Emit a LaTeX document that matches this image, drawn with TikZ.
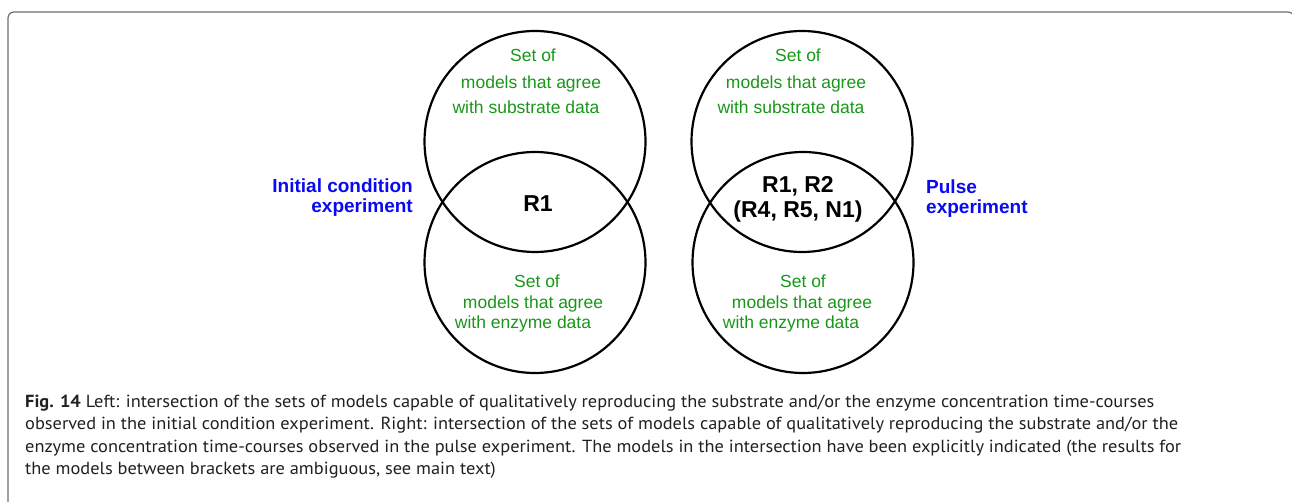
\documentclass[tikz,border=0pt]{standalone}
\usepackage{fontspec}
\setmainfont{Liberation Sans}
\newfontfamily\capfont[FakeStretch=1.05]{PT Sans}
\definecolor{setgreen}{RGB}{25,150,25}
\definecolor{labelblue}{RGB}{10,10,240}
\definecolor{framegray}{RGB}{110,110,110}
\definecolor{captext}{RGB}{35,31,32}
\begin{document}
\begin{tikzpicture}[x=1pt,y=-1pt,
  venn/.style={circle, draw=black, line width=2.2pt, minimum size=221pt, inner sep=0pt},
  settext/.style={anchor=base, inner sep=0pt, text=setgreen, font=\fontsize{17.5}{20}\selectfont},
  hits/.style={anchor=base, inner sep=0pt, text=black, font=\fontsize{23}{27}\selectfont\bfseries},
  explabel/.style={inner sep=0pt, text=labelblue, font=\fontsize{19}{20}\selectfont\bfseries},
  capline/.style={anchor=base west, inner sep=0pt, text=captext, font=\capfont\fontsize{17.5}{22}\selectfont}]
  \useasboundingbox (0,0) rectangle (1292,502);
  \clip (0,0) rectangle (1292,502);
  % frame of the figure box
  \draw[framegray, line width=1.2pt, rounded corners=6pt] (8,540) -- (8,12) -- (1294,12) -- (1294,540);

  % left pair of sets
  \node[venn] (subL) at (535,141.5) {};
  \node[venn] (enzL) at (535,262.5) {};
  % right pair of sets
  \node[venn] (subR) at (802,141.5) {};
  \node[venn] (enzR) at (803,262.5) {};

  % set descriptions, left
  \node[settext] (subLa) at (533,62) {Set of};
  \node[settext] (subLb) at (531,89) {models that agree};
  \node[settext] (subLc) at (526,114) {with substrate data};
  \node[settext] (enzLa) at (537,288) {Set of};
  \node[settext] (enzLb) at (533,308.5) {models that agree};
  \node[settext] (enzLc) at (523,328) {with enzyme data};
  % set descriptions, right
  \node[settext] (subRa) at (798,62) {Set of};
  \node[settext] (subRb) at (796,89) {models that agree};
  \node[settext] (subRc) at (791,114) {with substrate data};
  \node[settext] (enzRa) at (803,288) {Set of};
  \node[settext] (enzRb) at (802,308.5) {models that agree};
  \node[settext] (enzRc) at (791,328) {with enzyme data};

  % models in the intersections
  \node[hits] (hitL) at (538,212) {R1};
  \node[hits] (hitRa) at (798,193) {R1, R2};
  \node[hits] (hitRb) at (798,218) {(R4, R5, N1)};

  % experiment labels
  \node[explabel, anchor=base east] (expLa) at (413,193) {Initial condition};
  \node[explabel, anchor=base east] (expLb) at (413,213) {experiment};
  \node[explabel, anchor=base west] (expRa) at (926,194) {Pulse};
  \node[explabel, anchor=base west] (expRb) at (926,213.5) {experiment};

  % caption
  \node[capline] (cap1) at (25,407) {\textbf{Fig. 14} Left: intersection of the sets of models capable of qualitatively reproducing the substrate and/or the enzyme concentration time-courses};
  \node[capline] (cap2) at (25,429.5) {observed in the initial condition experiment. Right: intersection of the sets of models capable of qualitatively reproducing the substrate and/or the};
  \node[capline] (cap3) at (25,452) {enzyme concentration time-courses observed in the pulse experiment. The models in the intersection have been explicitly indicated (the results for};
  \node[capline] (cap4) at (25,474.5) {the models between brackets are ambiguous, see main text)};
\end{tikzpicture}
\end{document}
